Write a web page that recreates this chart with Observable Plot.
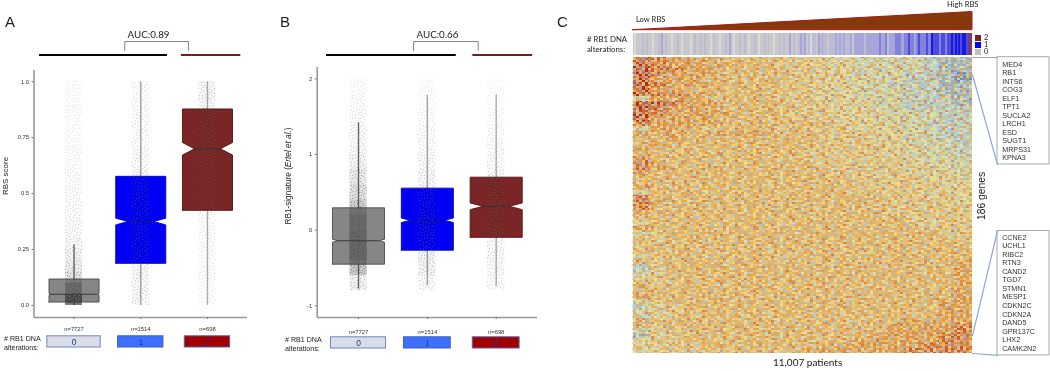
<!DOCTYPE html>
<html><head><meta charset="utf-8">
<script src="https://cdn.jsdelivr.net/npm/d3@7"></script>
<script src="https://cdn.jsdelivr.net/npm/@observablehq/plot@0.6"></script>
<style>
html,body{margin:0;padding:0;background:#fff;overflow:hidden}
#page{position:relative;width:1050px;height:371px;font-family:"Liberation Sans",Arial,sans-serif;color:#222;filter:blur(.3px)}
#page>svg,#page>figure{position:absolute;margin:0}
.t{position:absolute;white-space:nowrap;line-height:1}
.cal{font-family:Lato,"Open Sans",sans-serif}
.rot{transform:translate(-50%,-50%) rotate(-90deg);transform-origin:center}
</style></head><body><div id="page"></div>
<script>
// ---------- Panels A and B : box statistics per number of RB1 alterations ----------
const groups = [0, 1, 2];
const groupCounts = ["n=7727", "n=1514", "n=698"];
const boxFill = ["#7f7f7f", "#0000f2", "#7a2626"];
const boxStroke = ["#4a4a4a", "#0000c8", "#4f1212"];
const medianStroke = ["#3a3a3a", "#14147a", "#333333"];
const whiskerStroke = ["#666666", "#a3a3a3", "#adadad"];
const chipFill = ["#d9dde8", "#3f6fff", "#a00000"];
const chipStroke = ["#6f88c0", "#3f5fb8", "#5a60a8"];
const chipText = ["#1f3f7f", "#1f3f9f", "#3a2f8f"];
const chipHalf = [0.4, 0.34, 0.34];

const rbsQ1 = [0.015, 0.188, 0.425];
const rbsMedian = [0.05, 0.375, 0.70];
const rbsQ3 = [0.118, 0.577, 0.878];
const rbsNotch = [0.004, 0.015, 0.028];
const rbsWaist = [0.36, 0.195, 0.195];
const rbsLow = [0, 0, 0];
const rbsHigh = [0.27, 1.0, 1.0];
const rbsTicks = [0, 0.25, 0.5, 0.75, 1];
const rbsTickLabels = ["0.0", "0.25", "0.5", "0.75", "1.0"];
const rbsBins = [0,0.05,0.1,0.15,0.2,0.25,0.3,0.4,0.5,0.6,0.7,0.8,0.9,1.0];
const rbsDensity = [
  [0.85,0.62,0.40,0.32,0.26,0.22,0.17,0.13,0.11,0.09,0.08,0.07,0.06],
  [0.20,0.20,0.20,0.20,0.20,0.20,0.20,0.20,0.20,0.17,0.14,0.13,0.12],
  [0.08,0.08,0.09,0.09,0.09,0.10,0.10,0.12,0.16,0.18,0.20,0.20,0.22]
];
const sigQ1 = [-0.45, -0.265, -0.095];
const sigMedian = [-0.14, 0.13, 0.315];
const sigQ3 = [0.295, 0.555, 0.70];
const sigNotch = [0.02, 0.03, 0.044];
const sigWaist = [0.30, 0.25, 0.19];
const sigLow = [-0.78, -0.735, -0.75];
const sigHigh = [1.42, 1.78, 1.79];
const sigTicks = [-1, 0, 1, 2];
const sigTickLabels = ["-1", "0", "1", "2"];
const sigBins = [-0.8,-0.6,-0.4,-0.2,0,0.2,0.4,0.6,0.8,1.0,1.2,1.4,1.6,1.8,2.0];
const sigDensity = [
  [0.28,0.55,0.66,0.66,0.62,0.52,0.42,0.34,0.25,0.18,0.16,0.13,0.11,0.08],
  [0.18,0.26,0.26,0.26,0.26,0.24,0.22,0.20,0.18,0.14,0.12,0.10,0.07,0.05],
  [0.14,0.16,0.18,0.18,0.20,0.20,0.20,0.18,0.15,0.14,0.10,0.06,0.04,0.03]
];
// ---------- Panel C ----------
const patientCount = 11007;
const geneCount = 186;
const rbsWedgeX = [0, 11007];
const rbsWedgeY = [0, 1];
// one digit per stripe, from low to high RBS
const alterationStripes =
 "0100020200100203020010020100001020020200102001002030100200201002010020200100202003020023" +
 "2302122032322022232323222303333323333333433423334443344544345444544655545545565656566577";
const stripeColors = ["#c9c9c9","#d9d9d9","#bcbcd4","#a6a6da","#8282dc","#4c4cdc","#1818e0","#7c3a70"];
// coarse reading of the heat map: 0 = red ... 9 = blue; one line per band of genes
const heatRows = [
 "01222333344556666788","01222233344556666788","01122333344556666788","01222333344456667789",
 "02223333344556667789","01222333344556677788","02233333344556667788","01122333344556667788",
 "52223333344555667778","00122333344555667778","00222333344455667777","01222233344455566677",
 "02222333344455566677","12222333333445566777","52233333334445556677","23233222333444556677",
 "33233333333444556677","32333333333444456667","23333333334444455667","33333333334444456667",
 "13333333334444445666","12333333333444445566","12333333333444445566","23333333333344445556",
 "33333333333344444556","33333333333334444455","23333333333334444455","53333333333333444455",
 "13333333333333344445","12333333333333344445","13333333333333344444","23333333333333344444",
 "43333333333333334444","53333333333333334444","23333333333333333444","54333333333333333344",
 "44333333333333333344","34333333333333333333","43333333333333333333","33333333333333333333",
 "44333333333333333333","34333333333333333332","74333333333333333332","75333333333333333332",
 "54333333333333333332","44433333333333333332","24333333333333333332","33333333333333333332",
 "23333333333333333332","64333333333333333322","75433333333333333322","65433333333333333322",
 "75433333333333333322","24333333333333332222","34333333333333322221","64433333333333322221",
 "85433333333333222211","54433333333332222211","55443333333322222111","54443333332222221111"
];
const heatColors = ["#b52a12","#d5561e","#e4903a","#e6b562","#e3c680","#ddd498","#c6d8b4","#a8cfdc","#84b2dc","#5d8fc8"];
const speckleRows = [
 "b.oy.rw.y.bo..gy.r.wb.y.",".ry.b.o.wy.r.b.oy.w.ogb.","y.wo.g.by.o.ry.b..oyr.w.","o.b.yr.o.wb.y.go.w.b.yr.",
 ".wy.o.b.r.yo.wb.y.ro.g.b","r.g.by.wo.y.b.r.oy.wb.o.",".o.yw.r.b.go.y.wr.b.y.ow","by.o.b.y.or.wy.b.o.gy.r.",
 ".r.wy.o.wb.y.o.r.yb.wo.y","yo.b.gr.y.o.wb.y.ro.b.w.",".b.or.wy.b.yr.o.wy.g.oy.","w.y.b.o.ry.wo.b.y.r.wb.o",
 ".oy.g.wb.o.y.rw.by.o.y.r","r.b.yo.y.wr.g.o.by.wo.b.",".yw.o.rb.y.ob.y.w.r.yo.w","b.o.w.y.go.y.rb.o.wy.b.y"
];
const speckleColors = {b:"#a8cfe6",o:"#eba23e",y:"#f7dd78",r:"#c8785a",w:"#dfe8cf",g:"#b4b8b0"};
const upperGenes = ["MED4","RB1","INTS6","COG3","ELF1","TPT1","SUCLA2","LRCH1","ESD","SUGT1","MRPS31","KPNA3"];
const lowerGenes = ["CCNE2","UCHL1","RIBC2","RTN3","CAND2","TGD7","STMN1","MESP1","CDKN2C","CDKN2A","DAND5","GPR137C","LHX2","CAMK2N2"];
const stripeLegend = [["2","#7a2020"],["1","#0000ff"],["0","#c0c0c0"]];

const page = document.getElementById("page");
function place(node, left, top){ node.style.left = left+"px"; node.style.top = top+"px"; page.appendChild(node); return node; }
function text(html, left, top, size, cls="", extra=""){
  const d = document.createElement("div"); d.className = "t "+cls; d.innerHTML = html;
  d.style.cssText += `left:${left}px;top:${top}px;font-size:${size}px;${extra}`; page.appendChild(d); return d;
}
// dotted texture for the jittered patient dots
const NS = "http://www.w3.org/2000/svg";
const defs = document.createElementNS(NS,"svg");
defs.setAttribute("width",0); defs.setAttribute("height",0); defs.style.position="absolute";
const dotCells = [[1,1],[6,0],[12,2],[18,1],[3,4],[9,5],[15,3],[21,5],[0,7],[6,8],[11,7],[17,9],[22,8],[2,11],[8,12],[14,10],[19,12],[4,14],[10,15],[16,14],[21,16],[1,17],[7,18],[13,17],[18,18],[4,1],[9,2],[15,0],[20,3],[1,5],[6,4],[12,5],[18,6],[3,8],[9,9],[14,7],[20,10],[0,10],[5,12],[11,11],[17,12],[22,13],[2,15],[7,15],[13,14],[19,15],[4,18],[10,18],[16,18],[22,19]];
let inner = `<defs><pattern id="dots" width="24" height="20" patternUnits="userSpaceOnUse">`;
for(const [x,y] of dotCells) inner += `<rect x="${x}" y="${y}" width="1" height="1" fill="#777"/>`;
inner += `</pattern><pattern id="speckle" width="72" height="32" patternUnits="userSpaceOnUse" shape-rendering="crispEdges">`;
speckleRows.forEach((row,j)=>[...row].forEach((c,i)=>{ if(c!==".") inner += `<rect x="${i*3}" y="${j*2}" width="3" height="2" fill="${speckleColors[c]}"/>`; }));
inner += `</pattern><pattern id="speckle2" width="51" height="22" patternUnits="userSpaceOnUse" shape-rendering="crispEdges">`;
speckleRows.slice(0,11).reverse().forEach((row,j)=>[...row.slice(3,20)].forEach((c,i)=>{ if(c!==".") inner += `<rect x="${i*3}" y="${j*2}" width="3" height="2" fill="${speckleColors[c]}"/>`; }));
inner += `</pattern></defs>`;
defs.innerHTML = inner; page.appendChild(defs);

function boxPanel(cfg){
  const {left,width,mL,mR,yDomain,q1,med,q3,notch,waist,low,high,ticks,tickLabels,bins,density,half,jitter,brackets} = cfg;
  const x = {domain:[-0.6,2.6]};
  const clouds = [];
  groups.forEach(g=>density[g].forEach((v,i)=>clouds.push({g,y1:bins[i],y2:bins[i+1],v})));
  const outline = g=>{
    const L=g-half,R=g+half,a=g-waist[g],b=g+waist[g];
    return [[L,q1[g]],[R,q1[g]],[R,med[g]-notch[g]],[b,med[g]],[R,med[g]+notch[g]],[R,q3[g]],[L,q3[g]],[L,med[g]+notch[g]],[a,med[g]],[L,med[g]-notch[g]],[L,q1[g]]];
  };
  const main = Plot.plot({
    width, height:371, marginLeft:mL, marginRight:mR, marginTop:cfg.top, marginBottom:54,
    x, y:{domain:yDomain}, opacity:{domain:[0,1],range:[0,1]},
    style:{background:"transparent",fontFamily:'"Liberation Sans",Arial,sans-serif'},
    marks:[
      ...groups.map(g=>Plot.ruleX([g],{y1:low[g],y2:high[g],stroke:whiskerStroke[g],strokeWidth:1.4})),
      ...groups.map(g=>Plot.line(outline(g),{x:d=>d[0],y:d=>d[1],fill:boxFill[g],stroke:boxStroke[g],strokeWidth:0.9,fillOpacity:g==0?0.95:1})),
      Plot.rect(clouds,{x1:d=>d.g-jitter,x2:d=>d.g+jitter,y1:"y1",y2:"y2",fill:"#222",fillOpacity:d=>d.v*d.v*0.85}),
      Plot.rect(clouds,{x1:d=>d.g-jitter,x2:d=>d.g+jitter,y1:"y1",y2:"y2",fill:"url(#dots)",fillOpacity:d=>Math.min(1,0.1+d.v*1.3)}),
      ...groups.map(g=>Plot.ruleY([med[g]],{x1:g-waist[g],x2:g+waist[g],stroke:medianStroke[g],strokeWidth:1.1})),
      Plot.ruleX([-0.6],{stroke:"#999",strokeWidth:1.6}),
      Plot.ruleY([yDomain[0]],{stroke:"#999",strokeWidth:1.6}),
      Plot.axisY({ticks,tickFormat:d=>tickLabels[ticks.indexOf(d)],tickSize:2,tickPadding:3,fontSize:5.8,stroke:"#777",fill:"#333",label:null,marginLeft:mL}),
      Plot.axisX({ticks:groups,tickFormat:()=>"",tickSize:2,stroke:"#777",label:null})
    ]
  });
  place(main,left,0);
  const head = Plot.plot({
    width, height:60, marginLeft:mL, marginRight:mR, marginTop:0, marginBottom:0,
    x, y:{domain:[0,1],range:[54.5,41]}, axis:null,
    style:{background:"transparent"},
    marks:[
      Plot.ruleY([0],{x1:brackets.black[0],x2:brackets.black[1],stroke:"#000",strokeWidth:1.9}),
      Plot.ruleY([0],{x1:brackets.red[0],x2:brackets.red[1],stroke:"#7a1c1c",strokeWidth:1.9}),
      Plot.line([[brackets.auc[0],0.33],[brackets.auc[0],1],[brackets.auc[1],1],[brackets.auc[1],0.33]],{stroke:"#777",strokeWidth:0.9}),
      Plot.text([cfg.aucLabel],{x:cfg.aucX,y:1.52,text:d=>d,fontSize:9.8,fontFamily:"Lato,sans-serif",fill:"#222"})
    ]
  });
  place(head,left,0);
  const foot = Plot.plot({
    width, height:51, marginLeft:mL, marginRight:mR, marginTop:0, marginBottom:0,
    x, y:{domain:[0,1],range:[cfg.chipBottom-320,cfg.chipBottom-320-11.2]}, axis:null,
    style:{background:"transparent"},
    marks:[
      Plot.rect(groups,{x1:g=>g-chipHalf[g],x2:g=>g+chipHalf[g],y1:0,y2:1,fill:g=>chipFill[g],stroke:g=>chipStroke[g],strokeWidth:1}),
      Plot.text(groups,{x:g=>g,y:0.5,text:g=>String(g),fill:g=>chipText[g],fontSize:8.5,fontFamily:"Liberation Sans"}),
      Plot.text(groups,{x:g=>g,y:cfg.nY,text:g=>groupCounts[g],fontSize:5.8,fill:"#333",fontFamily:"Liberation Sans"})
    ]
  });
  place(foot,left,320);
}

boxPanel({left:0,width:260,mL:33.5,mR:13,top:70,yDomain:[-0.054,1.05],q1:rbsQ1,med:rbsMedian,q3:rbsQ3,notch:rbsNotch,waist:rbsWaist,low:rbsLow,high:rbsHigh,
  ticks:rbsTicks,tickLabels:rbsTickLabels,bins:rbsBins,density:rbsDensity,half:0.375,jitter:0.127,chipBottom:347,nY:1.65,aucLabel:"AUC:0.89",aucX:1.116,
  brackets:{black:[-0.517,1.40],red:[1.61,2.5],auc:[0.76,1.715]}});
boxPanel({left:270,width:270,mL:46.7,mR:3,top:67,yDomain:[-1.155,2.15],q1:sigQ1,med:sigMedian,q3:sigQ3,notch:sigNotch,waist:sigWaist,low:sigLow,high:sigHigh,
  ticks:sigTicks,tickLabels:sigTickLabels,bins:sigBins,density:sigDensity,half:0.378,jitter:0.125,chipBottom:348,nY:1.5,aucLabel:"AUC:0.66",aucX:1.147,
  brackets:{black:[-0.465,1.42],red:[1.66,2.53],auc:[0.8,1.74]}});

// Panel C : wedge of the RBS score
const wedge = Plot.plot({
  width:1050,height:32,marginLeft:632.5,marginRight:78,marginTop:11.5,marginBottom:2.3,
  x:{domain:[0,patientCount]},y:{domain:[0,1]},axis:null,style:{background:"transparent"},
  marks:[Plot.areaY(rbsWedgeX.map((x,i)=>({x,y:rbsWedgeY[i]})),{x:"x",y1:0,y2:"y",fill:"#85380a",stroke:"#a81c1c",strokeWidth:1})]
});
place(wedge,0,0);
// alteration stripes
const stripeData = [...alterationStripes].map((c,i)=>({i,v:+c}));
const strip = Plot.plot({
  width:1050,height:22,marginLeft:632.5,marginRight:78,marginTop:0,marginBottom:0,
  x:{domain:[0,stripeData.length]},y:{domain:[0,1]},axis:null,style:{background:"transparent"},
  marks:[Plot.rect(stripeData,{x1:d=>d.i,x2:d=>d.i+1,y1:0,y2:1,fill:d=>stripeColors[d.v],shapeRendering:"crispEdges"})]
});
place(strip,0,33);
// heat map with the two call-outs
const heatData = [];
heatRows.forEach((row,r)=>[...row].forEach((c,k)=>heatData.push({r,k,v:+c})));
const colW = patientCount/heatRows[0].length, rowH = geneCount/heatRows.length;
const callLeft = 11817, callRight = 13503, labelX = 11969, blue = "#8ea4dc";
const upperBox = [-0.2,67.2], lowerBox = [109,187.2];
const heat = Plot.plot({
  width:1050,height:371,marginLeft:632.5,marginRight:78,marginTop:57,marginBottom:18,
  x:{domain:[0,patientCount]},y:{domain:[geneCount,0]},axis:null,
  color:{type:"linear",domain:heatColors.map((c,i)=>i),range:heatColors,interpolate:"rgb"},
  style:{background:"transparent"},
  marks:[
    Plot.rect(heatData,{x1:d=>d.k*colW,x2:d=>(d.k+1)*colW,y1:d=>d.r*rowH,y2:d=>(d.r+1)*rowH,fill:"v",shapeRendering:"crispEdges"}),
    Plot.rect([0],{x1:0,x2:patientCount,y1:0,y2:geneCount,fill:"url(#speckle)",fillOpacity:0.72}),
    Plot.rect([0],{x1:0,x2:patientCount,y1:0,y2:geneCount,fill:"url(#speckle2)",fillOpacity:0.4}),
    Plot.rect([upperBox,lowerBox],{x1:callLeft,x2:callRight,y1:d=>d[0],y2:d=>d[1],fill:"#fff",stroke:"#aaa",strokeWidth:1}),
    Plot.line([[patientCount,0],[callLeft,0]],{x:d=>d[0],y:d=>d[1],stroke:blue,strokeWidth:1.2}),
    Plot.line([[patientCount,11],[callLeft,67.2]],{x:d=>d[0],y:d=>d[1],stroke:blue,strokeWidth:1.2}),
    Plot.line([[patientCount,174.7],[callLeft,109]],{x:d=>d[0],y:d=>d[1],stroke:blue,strokeWidth:1.2}),
    Plot.line([[patientCount,186],[callLeft,187.2]],{x:d=>d[0],y:d=>d[1],stroke:blue,strokeWidth:1.2}),
    Plot.text(upperGenes,{x:labelX,y:(d,i)=>4.4+i*5.35,text:d=>d,textAnchor:"start",fontSize:7.2,fill:"#333",fontFamily:"Liberation Sans"}),
    Plot.text(lowerGenes,{x:labelX,y:(d,i)=>113+i*5.37,text:d=>d,textAnchor:"start",fontSize:7.2,fill:"#333",fontFamily:"Liberation Sans"})
  ]
});
place(heat,0,0);

// Letters, axis titles and small captions
text("A",5,14,15); text("B",280,14,15); text("C",557,14,15);
text("RBS score",6,176,8,"rot");
text("RB1-signature (<i>Ertel et al.</i>)",289,176,8.2,"rot");
text("# RB1 DNA<br>alterations:",4,335,7.1,"","line-height:9.3px");
text("# RB1 DNA<br>alterations:",285,335.5,7.1,"","line-height:9.3px");
text("Low RBS",636,16,7.6,"cal");
text("High RBS",947,1,7.6,"cal");
text("# RB1 DNA<br>alterations:",587,34,7.8,"cal","line-height:10px");
text("186 genes",982,196,10.3,"rot");
text("11,007 patients",773,357,10,"cal");
stripeLegend.forEach(([lab,col],i)=>{
  const s=document.createElement("div");
  s.style.cssText=`position:absolute;left:975px;top:${34.7+i*7.2}px;width:6px;height:6px;background:${col}`;
  page.appendChild(s);
  text(lab,984,34+i*7.2,7.5,"cal");
});
</script></body></html>
